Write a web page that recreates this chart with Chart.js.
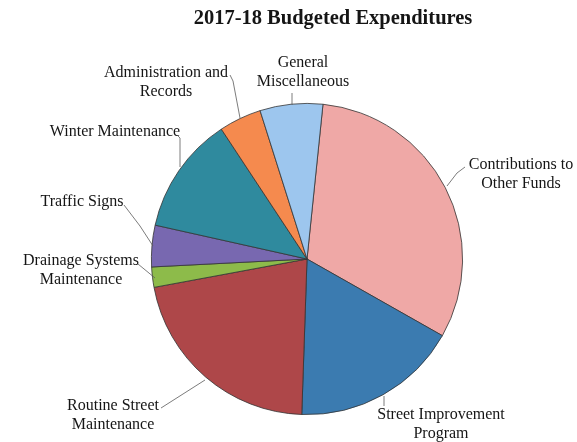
<!DOCTYPE html>
<html>
<head>
<meta charset="utf-8">
<script src="https://cdn.jsdelivr.net/npm/chart.js@4/dist/chart.umd.min.js"></script>
<style>
html,body{margin:0;padding:0;background:#fff;}
#wrap{width:577px;height:442px;position:relative;}
</style>
</head>
<body>
<div id="wrap"><canvas id="c" width="577" height="442"></canvas></div>
<script>
const chartTitle = "2017-18 Budgeted Expenditures";
const categories = [
  "Contributions to Other Funds",
  "Street Improvement Program",
  "Routine Street Maintenance",
  "Drainage Systems Maintenance",
  "Traffic Signs",
  "Winter Maintenance",
  "Administration and Records",
  "General Miscellaneous"
];
const shares = [31.5, 17.3, 21.5, 2.1, 4.3, 12.2, 4.4, 6.5];
const sliceColors = ["#EFA8A6", "#3B7BB0", "#AE4749", "#8DBB4A", "#7868B0", "#2F8A9E", "#F58A4E", "#9DC6EE"];

// label layout: text lines, centre x, first-line centre y, leader polyline
const labelLayout = [
  {lines:["Contributions to","Other Funds"], x:521, y:165, leader:[[465,167],[457,173],[447,186]]},
  {lines:["Street Improvement","Program"], x:441, y:415, leader:[[384,406],[384,396]]},
  {lines:["Routine Street","Maintenance"], x:113, y:406, leader:[[161,408],[205,380]]},
  {lines:["Drainage Systems","Maintenance"], x:81, y:261, leader:[[138,264],[155,278]]},
  {lines:["Traffic Signs"], x:82, y:202, leader:[[124,205],[140,226],[153,246]]},
  {lines:["Winter Maintenance"], x:115, y:132, leader:[[178,136],[180,138],[180,167]]},
  {lines:["Administration and","Records"], x:166, y:73, leader:[[230,75],[233,81],[240,118]]},
  {lines:["General","Miscellaneous"], x:303, y:63, leader:[[292,93],[292,105]]}
];

const labelPlugin = {
  id: 'labelPlugin',
  afterDraw(chart) {
    const ctx = chart.ctx;
    ctx.save();
    ctx.fillStyle = '#151515';
    ctx.font = 'bold 20.5px "Liberation Serif", "Times New Roman", serif';
    ctx.textAlign = 'center';
    ctx.textBaseline = 'middle';
    ctx.fillText(chartTitle, 333, 19);
    ctx.font = '16px "Liberation Serif", "Times New Roman", serif';
    labelLayout.forEach(l => {
      l.lines.forEach((t, i) => ctx.fillText(t, l.x, l.y + i * 18.5));
      ctx.beginPath();
      ctx.strokeStyle = '#5a5a5a';
      ctx.lineWidth = 0.8;
      l.leader.forEach((p, i) => i ? ctx.lineTo(p[0], p[1]) : ctx.moveTo(p[0], p[1]));
      ctx.stroke();
    });
    ctx.restore();
  }
};

new Chart(document.getElementById('c'), {
  type: 'pie',
  data: {
    labels: categories,
    datasets: [{
      data: shares,
      backgroundColor: sliceColors,
      borderColor: '#333',
      borderWidth: 0.8
    }]
  },
  options: {
    responsive: false,
    animation: false,
    rotation: 5.9,
    layout: { padding: { top: 103, bottom: 27, left: 151, right: 114 } },
    plugins: {
      legend: { display: false },
      tooltip: { enabled: false },
      title: { display: false }
    }
  },
  plugins: [labelPlugin]
});
</script>
</body>
</html>
